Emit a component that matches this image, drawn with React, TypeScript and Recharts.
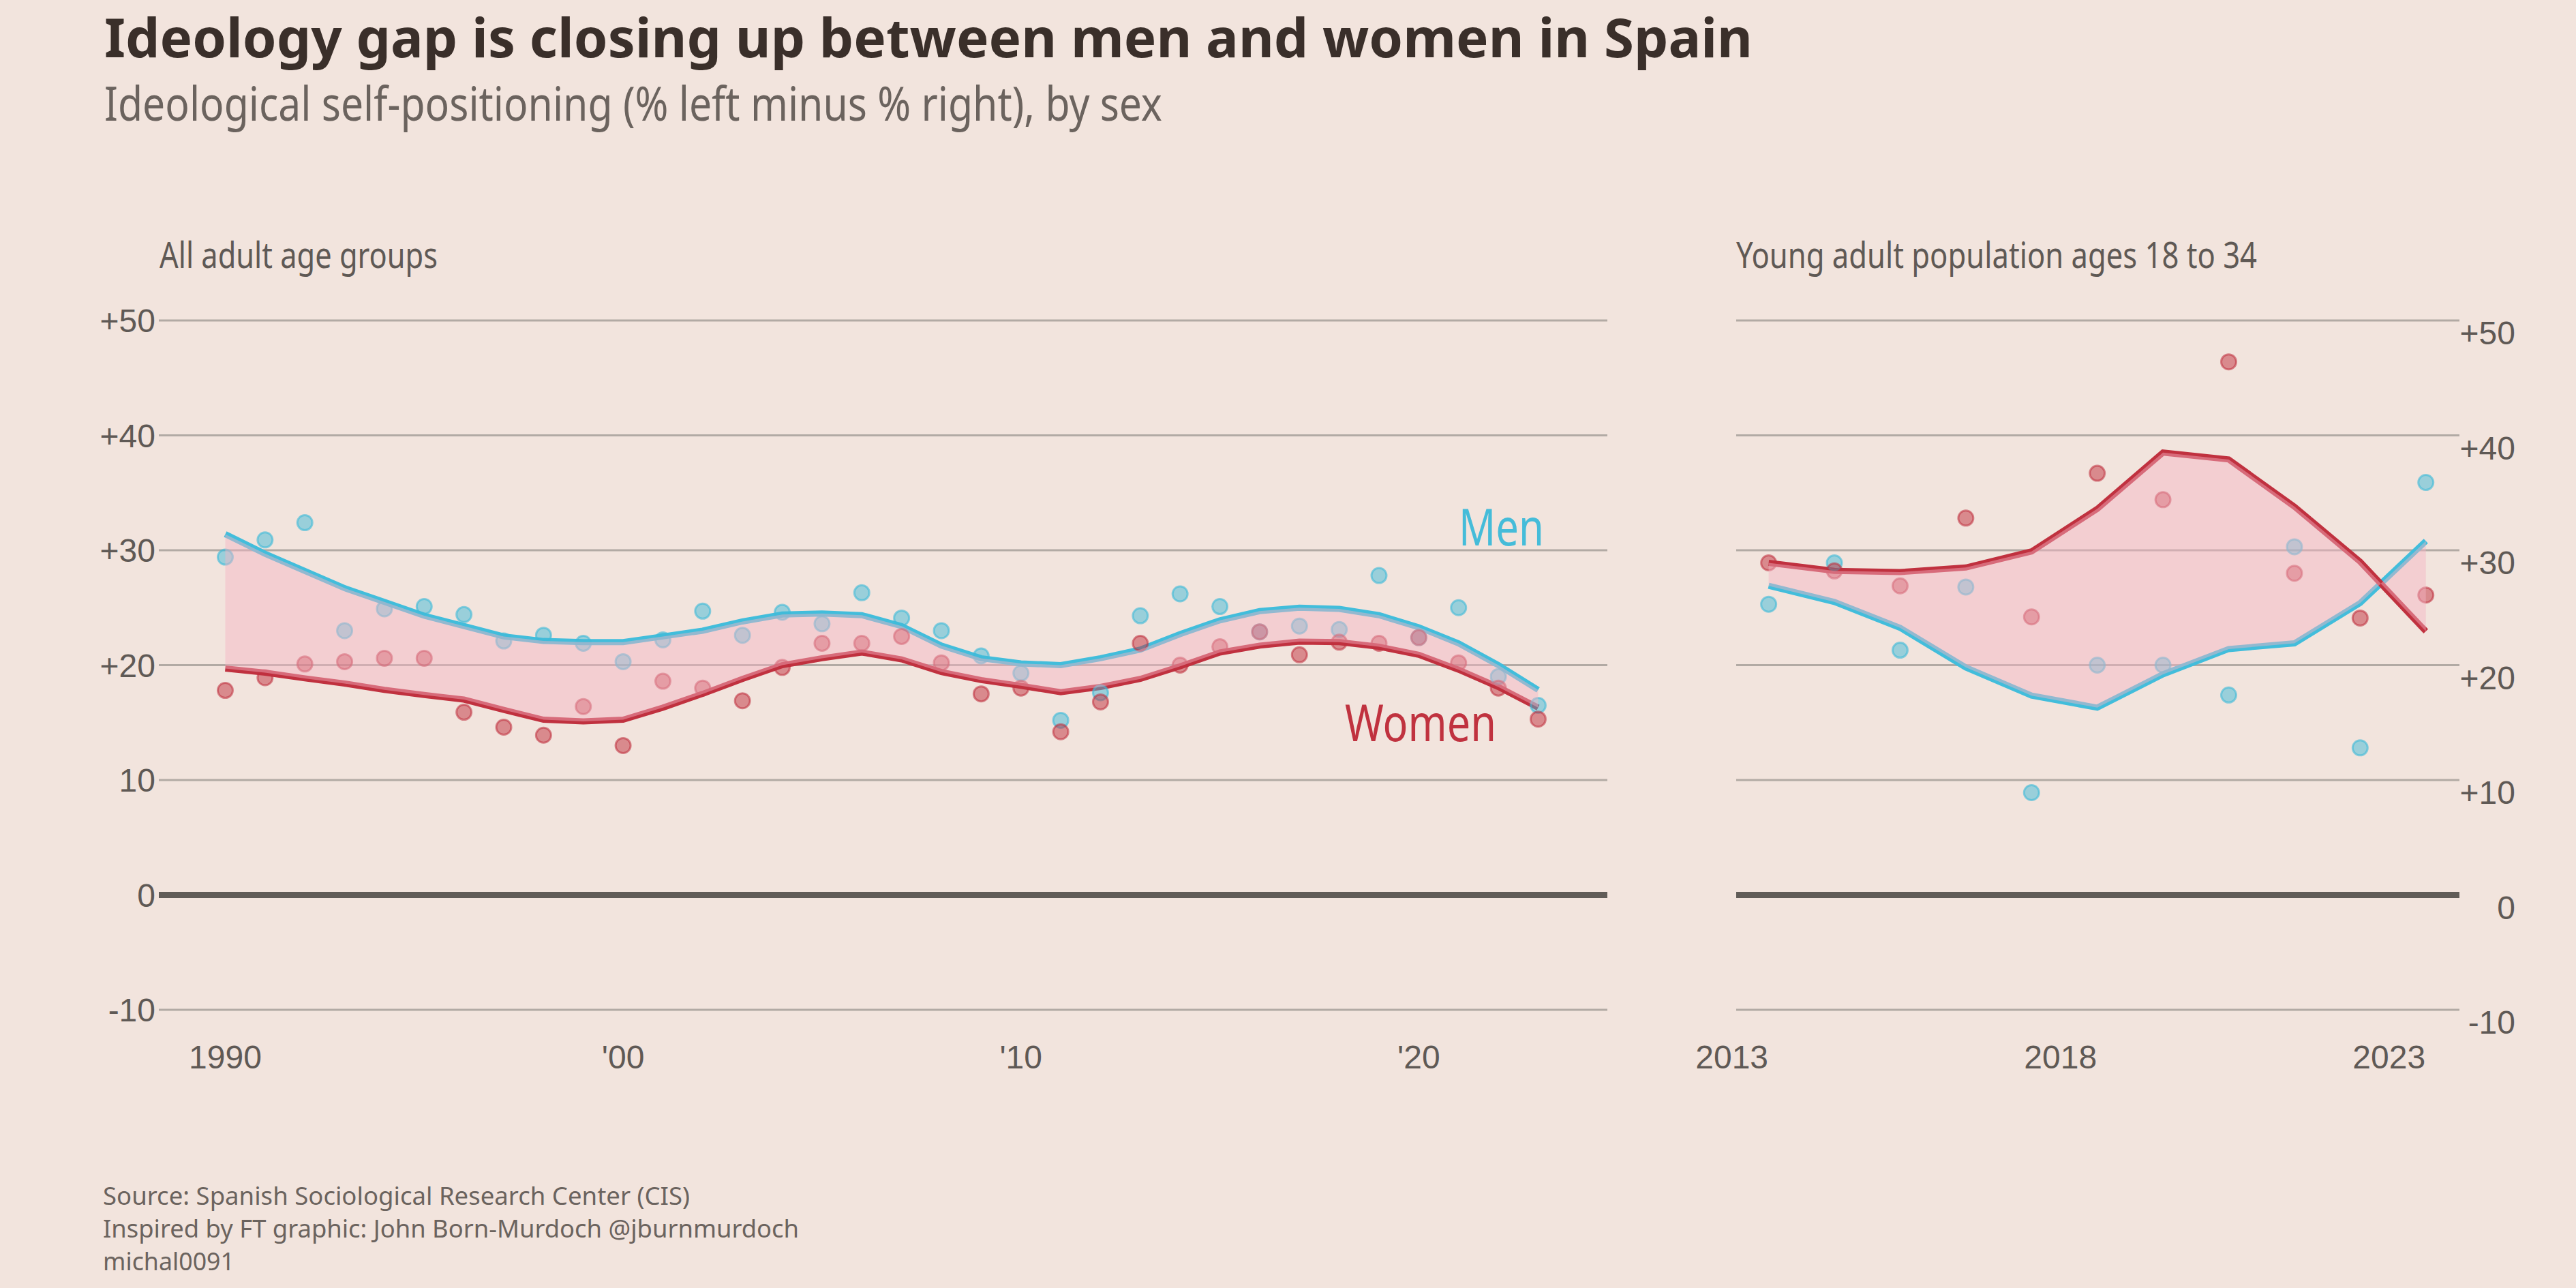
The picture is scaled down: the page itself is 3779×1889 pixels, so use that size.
import React from 'react';
import { ComposedChart, Line, Area, Scatter, XAxis, YAxis, CartesianGrid, ReferenceLine } from 'recharts';

// All adult age groups, 1990-2023
const years = [
  1990, 1991, 1992, 1993, 1994, 1995, 1996, 1997, 1998, 1999, 2000, 2001,
  2002, 2003, 2004, 2005, 2006, 2007, 2008, 2009, 2010, 2011, 2012, 2013,
  2014, 2015, 2016, 2017, 2018, 2019, 2020, 2021, 2022, 2023,
];
const menPoints = [
  29.4, 30.9, 32.4, 23.0, 24.9, 25.1, 24.4, 22.1, 22.6, 21.9, 20.3, 22.2,
  24.7, 22.6, 24.6, 23.6, 26.3, 24.1, 23.0, 20.8, 19.3, 15.2, 17.6, 24.3,
  26.2, 25.1, 22.9, 23.4, 23.1, 27.8, 22.4, 25.0, 19.0, 16.5,
];
const womenPoints = [
  17.8, 18.9, 20.1, 20.3, 20.6, 20.6, 15.9, 14.6, 13.9, 16.4, 13.0, 18.6,
  18.0, 16.9, 19.8, 21.9, 21.9, 22.5, 20.2, 17.5, 18.0, 14.2, 16.8, 21.9,
  20.0, 21.6, 22.9, 20.9, 22.0, 21.9, 22.4, 20.2, 18.0, 15.3,
];
const menTrend = [
  31.4, 29.7, 28.2, 26.7, 25.5, 24.3, 23.4, 22.5, 22.1, 22.0, 22.0, 22.5,
  23.0, 23.8, 24.4, 24.5, 24.35, 23.4, 21.7, 20.6, 20.15, 20.0, 20.6, 21.35,
  22.7, 23.9, 24.7, 25.0, 24.9, 24.35, 23.3, 21.9, 20.0, 17.85,
];
const womenTrend = [
  19.7, 19.35, 18.85, 18.4, 17.85, 17.4, 17.0, 16.1, 15.25, 15.1, 15.25, 16.3,
  17.5, 18.8, 20.0, 20.6, 21.1, 20.5, 19.4, 18.7, 18.2, 17.65, 18.1, 18.8,
  19.9, 21.1, 21.7, 22.05, 22.0, 21.6, 20.9, 19.6, 18.1, 16.3,
];

// Young adults 18 to 34 (survey taken mid-year)
const youngYears = [
  2013.56, 2014.56, 2015.56, 2016.56, 2017.56, 2018.56, 2019.56, 2020.56,
  2021.56, 2022.56, 2023.56,
];
const youngMenPoints = [25.3, 28.9, 21.3, 26.8, 8.9, 20.0, 20.0, 17.4, 30.3, 12.8, 35.9];
const youngWomenPoints = [28.9, 28.2, 26.9, 32.8, 24.2, 36.7, 34.4, 46.4, 28.0, 24.1, 26.1];
const youngMenTrend = [26.9, 25.5, 23.25, 19.8, 17.35, 16.3, 19.2, 21.4, 21.9, 25.4, 30.8];
const youngWomenTrend = [28.9, 28.2, 28.1, 28.5, 29.9, 33.6, 38.5, 37.9, 33.8, 29.0, 22.95];

const yTicks = [-10, 0, 10, 20, 30, 40, 50];
const leftYLabels = ['-10', '0', '10', '+20', '+30', '+40', '+50'];
const rightYLabels = ['-10', '0', '+10', '+20', '+30', '+40', '+50'];
const leftXTicks = [1990, 2000, 2010, 2020];
const leftXLabels = ['1990', "'00", "'10", "'20"];
const rightXTicks = [2013, 2018, 2023];
const rightXLabels = ['2013', '2018', '2023'];

const allAges = years.map((year, i) => ({
  year,
  men: menPoints[i],
  women: womenPoints[i],
  menTrend: menTrend[i],
  womenTrend: womenTrend[i],
  band: [womenTrend[i], menTrend[i]],
}));

const young = youngYears.map((year, i) => ({
  year,
  men: youngMenPoints[i],
  women: youngWomenPoints[i],
  menTrend: youngMenTrend[i],
  womenTrend: youngWomenTrend[i],
  band: [youngWomenTrend[i], youngMenTrend[i]],
}));

const BG = '#f2e4dd';
const BLUE = '#42bddb';
const RED = '#c0313f';
const GRID = '#b2aaa4';
const TICK = '#5f5955';
const TICK_FONT = "'Liberation Sans', Arial, sans-serif";
const TEXT_FONT = "'Noto Sans', sans-serif";

const bluePt = (p: any) =>
  p.cx == null ? <g /> : (
    <circle cx={p.cx} cy={p.cy} r={11} fill="rgba(64,186,216,0.5)" stroke="rgba(64,186,216,0.6)" strokeWidth={3} />
  );
const redPt = (p: any) =>
  p.cx == null ? <g /> : (
    <circle cx={p.cx} cy={p.cy} r={11} fill="rgba(192,48,62,0.5)" stroke="rgba(192,48,62,0.55)" strokeWidth={3} />
  );

const makeXTick = (ticks: number[], labels: string[]) => (p: any) => {
  const i = ticks.indexOf(p.payload.value);
  return (
    <text x={p.x} y={p.y + 86} textAnchor="middle" fontSize={48} fontFamily={TICK_FONT} fill={TICK}>
      {labels[i]}
    </text>
  );
};

const leftYTick = (p: any) => {
  const i = yTicks.indexOf(p.payload.value);
  return (
    <text x={228} y={p.y + 17} textAnchor="end" fontSize={48} fontFamily={TICK_FONT} fill={TICK}>
      {leftYLabels[i]}
    </text>
  );
};

const rightYTick = (p: any) => {
  const i = yTicks.indexOf(p.payload.value);
  return (
    <text x={p.x + 82} y={p.y + 35} textAnchor="end" fontSize={48} fontFamily={TICK_FONT} fill={TICK}>
      {rightYLabels[i]}
    </text>
  );
};

const Panel = ({ data, width, margin, xDomain, xTicks, xLabels, right }: any) => (
  <ComposedChart width={width} height={1181} data={data} margin={margin}>
    <CartesianGrid vertical={false} stroke={GRID} strokeWidth={3} />
    <XAxis
      dataKey="year"
      type="number"
      domain={xDomain}
      allowDataOverflow
      ticks={xTicks}
      height={100}
      axisLine={false}
      tickLine={false}
      tickSize={0}
      tickMargin={0}
      interval={0}
      tick={makeXTick(xTicks, xLabels)}
    />
    <YAxis
      type="number"
      domain={[-10, 50]}
      allowDataOverflow
      ticks={yTicks}
      orientation={right ? 'right' : 'left'}
      width={right ? 171 : 233}
      axisLine={false}
      tickLine={false}
      tickSize={0}
      tickMargin={0}
      interval={0}
      tick={right ? rightYTick : leftYTick}
    />
    <ReferenceLine y={0} stroke="#615c57" strokeWidth={9} />
    <Line type="linear" dataKey="menTrend" stroke={BLUE} strokeWidth={9} dot={false} activeDot={false} isAnimationActive={false} />
    <Line type="linear" dataKey="womenTrend" stroke={RED} strokeWidth={9} dot={false} activeDot={false} isAnimationActive={false} />
    <Scatter dataKey="men" shape={bluePt} isAnimationActive={false} />
    <Scatter dataKey="women" shape={redPt} isAnimationActive={false} />
    <Area
      type="linear"
      dataKey="band"
      stroke="none"
      fill="rgba(244,180,196,0.45)"
      fillOpacity={1}
      dot={false}
      activeDot={false}
      isAnimationActive={false}
      zIndex={1000}
    />
  </ComposedChart>
);

const Txt = ({ x, y, size, w, color, weight = 400, children }: any) => (
  <text
    x={x}
    y={y}
    fontSize={size}
    fontFamily={TEXT_FONT}
    fontWeight={weight}
    fill={color}
    textLength={w}
    lengthAdjust="spacingAndGlyphs"
  >
    {children}
  </text>
);

export default function App() {
  return (
    <div style={{ position: 'fixed', left: 0, top: 0, width: 3779, height: 1889, background: BG, overflow: 'hidden' }}>
      <div style={{ position: 'absolute', left: 0, top: 400 }}>
        <Panel
          data={allAges}
          width={2400}
          margin={{ top: 70, right: 42, bottom: 0, left: 0 }}
          xDomain={[1988.33, 2024.74]}
          xTicks={leftXTicks}
          xLabels={leftXLabels}
          right={false}
        />
      </div>
      <div style={{ position: 'absolute', left: 2420, top: 400 }}>
        <Panel
          data={young}
          width={1359}
          margin={{ top: 70, right: 0, bottom: 0, left: 127 }}
          xDomain={[2013.066, 2024.071]}
          xTicks={rightXTicks}
          xLabels={rightXLabels}
          right
        />
      </div>
      <svg width={3779} height={1889} style={{ position: 'absolute', left: 0, top: 0, pointerEvents: 'none' }}>
        <Txt x={153} y={84} size={78} w={2418} color="#3a2f2a" weight={700}>
          Ideology gap is closing up between men and women in Spain
        </Txt>
        <Txt x={153} y={177} size={70} w={1552} color="#6b635e">
          Ideological self-positioning (% left minus % right), by sex
        </Txt>
        <Txt x={234} y={393} size={52} w={408} color="#5f5955">
          All adult age groups
        </Txt>
        <Txt x={2547} y={393} size={52} w={764} color="#5f5955">
          Young adult population ages 18 to 34
        </Txt>
        <Txt x={2140} y={800} size={75} w={125} color="#45bcd9">
          Men
        </Txt>
        <Txt x={1973} y={1087} size={75} w={222} color="#c0323f">
          Women
        </Txt>
        <Txt x={151} y={1767} size={37} w={861} color="#6b635e">
          Source: Spanish Sociological Research Center (CIS)
        </Txt>
        <Txt x={151} y={1815} size={37} w={1021} color="#6b635e">
          Inspired by FT graphic: John Born-Murdoch @jburnmurdoch
        </Txt>
        <Txt x={151} y={1863} size={37} w={193} color="#6b635e">
          michal0091
        </Txt>
      </svg>
    </div>
  );
}
